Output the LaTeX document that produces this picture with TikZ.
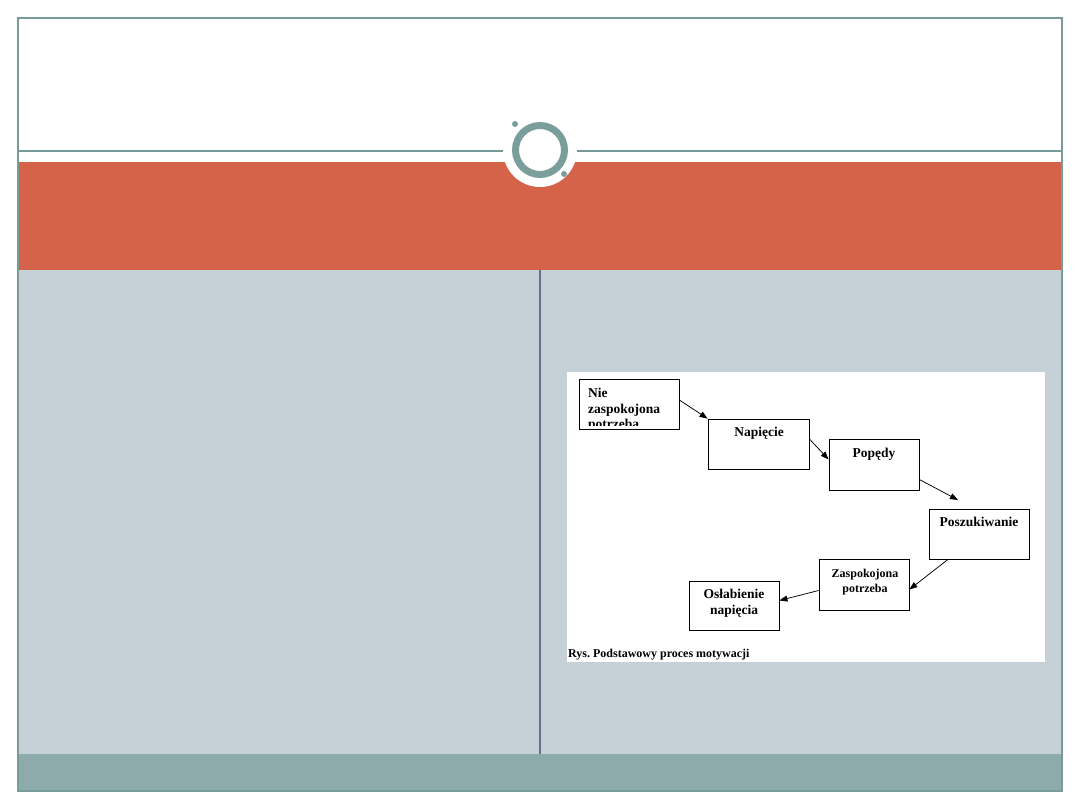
\documentclass[tikz,border=0pt]{standalone}
\usepackage{fontspec}
\setmainfont{Liberation Serif}
\usetikzlibrary{arrows.meta}
\definecolor{frame}{HTML}{779B99}
\definecolor{accent}{HTML}{D4634A}
\definecolor{bodybg}{HTML}{C6D1D7}
\definecolor{foot}{HTML}{8DABAB}
\definecolor{divider}{HTML}{67708F}
\definecolor{ring}{HTML}{7A9E9C}
\frenchspacing
\begin{document}
\begin{tikzpicture}[x=1pt,y=-1pt,
  box/.style={draw=black, line width=0.8pt, fill=white, inner sep=0pt},
  lbl/.style={font=\bfseries\fontsize{13.5}{15.5}\selectfont, inner sep=0pt},
  lbls/.style={font=\bfseries\fontsize{12}{15}\selectfont, inner sep=0pt},
  arr/.style={-{Triangle[length=8pt,width=6pt]}, line width=0.75pt, draw=black}]
\useasboundingbox (0,0) rectangle (1080,810);
\fill[white] (0,0) rectangle (1080,810);
% bands
\fill[accent] (18,162) rectangle (1062,270);
\fill[bodybg] (18,270) rectangle (1062,754);
\fill[foot] (18,754) rectangle (1062,791);
\draw[frame, line width=2pt] (18,18) rectangle (1062,791);
\draw[frame, line width=2pt] (18,151) -- (1062,151);
% ornament
\fill[white] (540,150) circle (37);
\draw[ring, line width=7pt] (540,150) circle (24.5);
\fill[ring] (515,124) circle (3);
\fill[ring] (564,174) circle (3);
% divider
\draw[divider, line width=2pt] (540,270) -- (540,754);
% figure area
\fill[white] (567,372) rectangle (1045,662);
% boxes
\node[box, minimum width=100pt, minimum height=50pt] (n1) at (629,404) {};
\node[box, minimum width=101pt, minimum height=50pt] (n2) at (758.5,444) {};
\node[box, minimum width=90pt, minimum height=51pt] (n3) at (874,464.5) {};
\node[box, minimum width=100pt, minimum height=50pt] (n4) at (979,534) {};
\node[box, minimum width=90pt, minimum height=51pt] (n5) at (864,584.5) {};
\node[box, minimum width=90pt, minimum height=49pt] (n6) at (734,605.5) {};
\coordinate (c1) at (958,500);
% labels
\begin{scope}
  \clip (n1.north west) rectangle (679,426);
  \node[lbl, align=left, anchor=north west] (t1) at (588,388) {Nie\\zaspokojona\\potrzeba};
\end{scope}
\node[lbl, anchor=base] (t2) at (759,437) {Napięcie};
\node[lbl, anchor=base] (t3) at (874,457) {Popędy};
\node[lbl, anchor=base] (t4) at (979,526) {Poszukiwanie};
\node[lbls, align=center, anchor=north] (t5) at (865,569) {Zaspokojona\\potrzeba};
\node[lbl, align=center, anchor=north] (t6) at (734,589) {Osłabienie\\napięcia};
\node[lbls, anchor=base west] (cap) at (568,657) {Rys. Podstawowy proces motywacji};
% arrows
\draw[arr] ([yshift=4pt]n1.east) -- (n2.north west);
\draw[arr] ([yshift=5pt]n2.east) -- ([yshift=5pt]n3.west);
\draw[arr] ([yshift=-15pt]n3.east) -- (c1);
\draw[arr] ([xshift=-31pt]n4.south) -- ([yshift=-5pt]n5.east);
\draw[arr] ([yshift=-6pt]n5.west) -- ([yshift=5pt]n6.east);
\end{tikzpicture}
\end{document}
